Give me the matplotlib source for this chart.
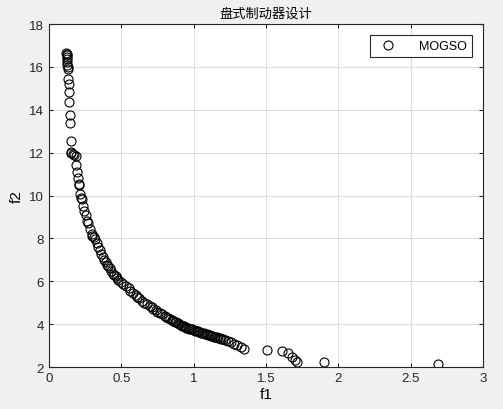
import matplotlib.pyplot as plt

plt.rcParams['font.family'] = ['Liberation Sans', 'Noto Sans CJK SC']

# Pareto front points
f1 = [0.120, 0.122, 0.124, 0.123, 0.125, 0.126, 0.127, 0.128, 0.130, 0.132,
      0.135, 0.138, 0.140, 0.142, 0.145, 0.150, 0.152, 0.155, 0.165, 0.175,
      0.185, 0.190, 0.195, 0.200, 0.205, 0.210, 0.212, 0.220, 0.225, 0.235,
      0.240, 0.255, 0.265, 0.270, 0.285, 0.295, 0.300, 0.310, 0.315, 0.330,
      0.340, 0.350, 0.360, 0.370, 0.380, 0.395, 0.400, 0.410, 0.420, 0.430,
      0.440, 0.450, 0.460, 0.470, 0.480, 0.500, 0.510, 0.530, 0.550, 0.560,
      0.580, 0.600, 0.610, 0.620, 0.640, 0.660, 0.680, 0.700, 0.710, 0.720,
      0.740, 0.750, 0.770, 0.780, 0.800, 0.810, 0.820, 0.835, 0.850, 0.860,
      0.870, 0.880, 0.890, 0.900, 0.910, 0.920, 0.930, 0.940, 0.950, 0.960,
      0.970, 0.980, 0.990, 1.000, 1.010, 1.020, 1.030, 1.040, 1.050, 1.060,
      1.070, 1.080, 1.090, 1.100, 1.110, 1.120, 1.130, 1.140, 1.150, 1.160,
      1.170, 1.180, 1.190, 1.200, 1.220, 1.240, 1.260, 1.280, 1.300, 1.330,
      1.350, 1.510, 1.610, 1.650, 1.680, 1.700, 1.715, 1.900, 2.690]
f2 = [16.65, 16.60, 16.55, 16.45, 16.35, 16.25, 16.10, 16.00, 15.90, 15.45,
      15.20, 14.85, 14.35, 13.75, 13.40, 12.55, 12.05, 12.00, 11.95, 11.90,
      11.85, 11.40, 11.10, 10.80, 10.55, 10.50, 10.05, 9.90, 9.85, 9.50,
      9.30, 9.10, 8.80, 8.70, 8.45, 8.20, 8.10, 8.05, 7.95, 7.80,
      7.60, 7.45, 7.25, 7.15, 7.00, 6.90, 6.75, 6.70, 6.60, 6.50,
      6.35, 6.30, 6.25, 6.15, 6.05, 5.95, 5.85, 5.80, 5.70, 5.55,
      5.45, 5.35, 5.25, 5.20, 5.10, 5.00, 4.95, 4.85, 4.80, 4.70,
      4.65, 4.55, 4.50, 4.45, 4.40, 4.35, 4.30, 4.25, 4.20, 4.15,
      4.12, 4.08, 4.05, 4.00, 3.97, 3.93, 3.90, 3.87, 3.84, 3.81,
      3.79, 3.77, 3.75, 3.72, 3.70, 3.68, 3.66, 3.63, 3.61, 3.59,
      3.57, 3.55, 3.53, 3.51, 3.48, 3.46, 3.44, 3.42, 3.40, 3.38,
      3.36, 3.34, 3.32, 3.30, 3.25, 3.20, 3.15, 3.08, 3.02, 2.92,
      2.85, 2.78, 2.73, 2.66, 2.45, 2.35, 2.25, 2.25, 2.15]

fig = plt.figure(figsize=(5.03, 4.10), dpi=100, facecolor='#f0f0f0')
ax = fig.add_axes([0.0974, 0.1024, 0.8628, 0.8366])
ax.plot(f1, f2, 'o', mfc='none', mec='black', ms=6.5, mew=0.8, label='MOGSO')

ax.set_xlim(0, 3)
ax.set_ylim(2, 18)
ax.set_xticks([0, 0.5, 1, 1.5, 2, 2.5, 3])
ax.set_xticklabels(['0', '0.5', '1', '1.5', '2', '2.5', '3'])
ax.set_yticks(range(2, 19, 2))
ax.grid(True, color='#dcdcdc', lw=0.8)
ax.set_axisbelow(True)
ax.tick_params(labelsize=9.5, direction='in', length=3, colors='#262626',
               top=True, right=True)
for s in ax.spines.values():
    s.set_color('#262626')
    s.set_linewidth(0.8)

ax.set_title('盘式制动器设计', fontsize=9.5, pad=5)
ax.set_xlabel('f1', fontsize=11, labelpad=2)
ax.set_ylabel('f2', fontsize=11, labelpad=4)

leg = ax.legend(loc='upper right', fontsize=9, fancybox=False, framealpha=1,
                edgecolor='#262626', borderaxespad=0.9, handletextpad=1.5)
leg.get_frame().set_linewidth(0.8)

fig.savefig('out.png', dpi=100, facecolor=fig.get_facecolor())
